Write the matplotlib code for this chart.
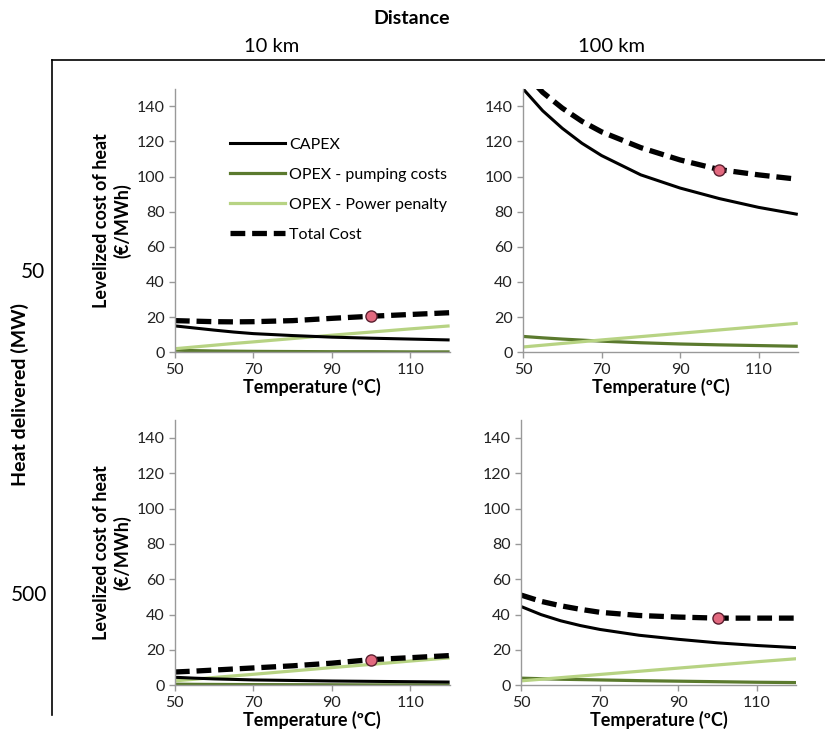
import numpy as np
import matplotlib.pyplot as plt
from matplotlib.lines import Line2D

plt.rcParams['font.family'] = ['Lato', 'DejaVu Sans']

# temperatures (oC)
temp = [50, 55, 60, 65, 70, 80, 90, 100, 110, 120]

# 10 km, 50 MW
capex_10_50 = [15, 13.8, 12.6, 11.5, 10.6, 9.5, 8.6, 8.0, 7.5, 7.0]
pump_10_50 = [1.2, 0.9, 0.7, 0.6, 0.5, 0.4, 0.3, 0.3, 0.2, 0.2]
pen_10_50 = [2.0, 3.0, 4.0, 5.0, 5.9, 7.8, 9.7, 11.5, 13.3, 15.0]
total_10_50 = [18.0, 17.7, 17.4, 17.3, 17.4, 18.0, 19.3, 20.5, 21.5, 22.5]

# 100 km, 50 MW
capex_100_50 = [150, 137.5, 127.5, 119, 112, 101, 93.5, 87.5, 82.5, 78.5]
pump_100_50 = [9.0, 8.2, 7.5, 6.9, 6.3, 5.4, 4.7, 4.2, 3.8, 3.4]
pen_100_50 = [3.0, 4.0, 5.0, 6.0, 7.0, 8.9, 10.8, 12.7, 14.6, 16.5]
total_100_50 = [160, 148, 139, 131.5, 125.5, 116.5, 109.5, 104, 101, 98.5]

# 10 km, 500 MW
capex_10_500 = [4.5, 4.0, 3.6, 3.3, 3.0, 2.7, 2.4, 2.2, 2.0, 1.8]
pump_10_500 = [0.6, 0.5, 0.45, 0.4, 0.35, 0.3, 0.25, 0.2, 0.2, 0.2]
pen_10_500 = [2.5, 3.4, 4.4, 5.3, 6.2, 8.1, 10.0, 11.8, 13.7, 15.5]
total_10_500 = [7.5, 8.0, 8.6, 9.2, 9.8, 11.0, 12.5, 14.5, 15.6, 16.8]

# 100 km, 500 MW
capex_100_500 = [44.5, 40, 36.5, 33.8, 31.6, 28.3, 26, 24, 22.5, 21.3]
pump_100_500 = [4.0, 3.7, 3.4, 3.2, 3.0, 2.6, 2.3, 2.0, 1.7, 1.5]
pen_100_500 = [2.5, 3.4, 4.3, 5.2, 6.1, 7.9, 9.7, 11.5, 13.3, 15.0]
total_100_500 = [51, 47.5, 45, 43, 41.3, 39.5, 38.6, 38, 38, 38]

# optimum marked on total cost
opt_temp = 100
opt_cost = [20.5, 104, 14.5, 38]

distances = ['10 km', '100 km']
heat = ['50', '500']

c_capex = 'black'
c_pump = '#5b7a2e'
c_pen = '#b7d383'

fig = plt.figure(figsize=(8.25, 7.4), dpi=100)

# axes positions: [left, bottom, width, height]
pos = [[0.212, 0.524, 0.333, 0.356],
       [0.634, 0.524, 0.333, 0.356],
       [0.212, 0.074, 0.333, 0.358],
       [0.632, 0.074, 0.333, 0.358]]

panels = [(capex_10_50, pump_10_50, pen_10_50, total_10_50),
          (capex_100_50, pump_100_50, pen_100_50, total_100_50),
          (capex_10_500, pump_10_500, pen_10_500, total_10_500),
          (capex_100_500, pump_100_500, pen_100_500, total_100_500)]

for i, (capex, pump, pen, total) in enumerate(panels):
    ax = fig.add_axes(pos[i])
    ax.plot(temp, pump, color=c_pump, lw=2.3, solid_capstyle='butt')
    ax.plot(temp, pen, color=c_pen, lw=2.3, solid_capstyle='butt')
    ax.plot(temp, capex, color=c_capex, lw=2.2, solid_capstyle='butt')
    ax.plot(temp, total, color='black', lw=3.8, dashes=(2.8, 1.3))
    ax.plot(opt_temp, opt_cost[i], 'o', ms=8, mfc='#e2697f', mec='#5a2030', mew=1)
    ax.set_xlim(50, 120)
    ax.set_ylim(0, 150)
    ax.set_xticks([50, 70, 90, 110])
    ax.set_yticks(range(0, 141, 20))
    for s in ['top', 'right']:
        ax.spines[s].set_visible(False)
    for s in ['left', 'bottom']:
        ax.spines[s].set_color('#999999')
        ax.spines[s].set_linewidth(1)
    ax.tick_params(colors='#999999', labelcolor='#222222', labelsize=11.5,
                   length=4, width=1)
    ax.set_xlabel('Temperature (ºC)', fontsize=13, fontweight='bold', labelpad=1)
    if i % 2 == 0:
        ax.set_ylabel('Levelized cost of heat\n(€/MWh)', fontsize=13,
                      fontweight='bold', labelpad=4)
    if i == 0:
        handles = [Line2D([], [], color=c_capex, lw=2.2),
                   Line2D([], [], color=c_pump, lw=2.3),
                   Line2D([], [], color=c_pen, lw=2.3),
                   Line2D([], [], color='black', lw=3.8, dashes=(2.8, 1.3))]
        ax.legend(handles, ['CAPEX', 'OPEX - pumping costs',
                            'OPEX - Power penalty', 'Total Cost'],
                  loc='upper left', bbox_to_anchor=(0.15, 0.87), frameon=False,
                  fontsize=11.5, handlelength=3.4, labelspacing=1.0,
                  handletextpad=0.25)

# frame and headers
fig.add_artist(Line2D([52 / 825, 1], [1 - 60 / 740] * 2, color='black', lw=1.2))
fig.add_artist(Line2D([52 / 825] * 2, [1 - 60 / 740, 1 - 715 / 740],
                      color='black', lw=1.2))
fig.text(412 / 825, 1 - 18 / 740, 'Distance', ha='center', va='center',
         fontsize=14, fontweight='bold')
fig.text(272 / 825, 1 - 46 / 740, distances[0], ha='center', va='center', fontsize=14.5)
fig.text(612 / 825, 1 - 46 / 740, distances[1], ha='center', va='center', fontsize=14.5)
fig.text(20 / 825, 1 - 395 / 740, 'Heat delivered (MW)', rotation=90,
         ha='center', va='center', fontsize=14, fontweight='bold')
fig.text(33 / 825, 1 - 272 / 740, heat[0], ha='center', va='center', fontsize=15)
fig.text(29 / 825, 1 - 595 / 740, heat[1], ha='center', va='center', fontsize=15)

fig.savefig('out.png', dpi=100)
